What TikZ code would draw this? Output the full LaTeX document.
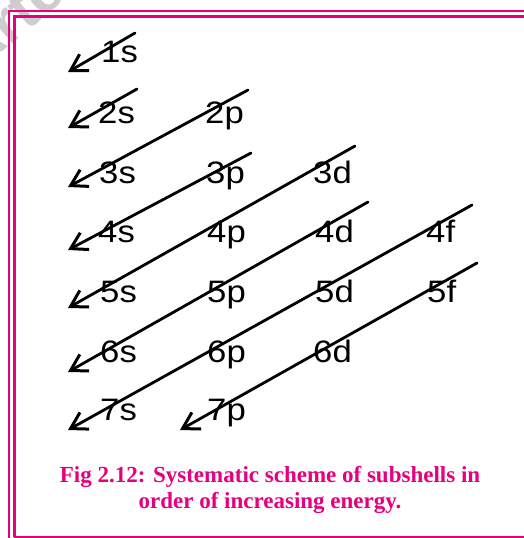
\documentclass[tikz,border=0pt]{standalone}
\usepackage{fontspec}
\setmainfont{Liberation Serif}
\newfontfamily\lblfont{Liberation Sans}
\usetikzlibrary{arrows.meta}
\definecolor{framepink}{RGB}{230,0,126}
\definecolor{wmgray}{RGB}{205,205,205}
\newcommand{\widelbl}[1]{\scalebox{1.12}[1]{#1}}
\tikzset{
  lbl/.style={anchor=base west, inner sep=0pt, font=\lblfont\fontsize{31}{31}\selectfont},
  diag/.style={line width=2.8pt, line cap=round, -{Straight Barb[length=16pt,width=19pt,line width=3pt]}},
  frameline/.style={draw=framepink, line width=2.6pt},
  captxt/.style={anchor=base, inner sep=0pt, text=framepink, font=\bfseries\fontsize{23}{26}\selectfont}
}
\begin{document}
\begin{tikzpicture}[x=1pt,y=-1pt]
\useasboundingbox (0,0) rectangle (524,538);
% watermark
\begin{scope}
\clip (0,0) rectangle (524,538);
\node[text=wmgray, font=\lblfont\bfseries\fontsize{60}{60}\selectfont, rotate=40, anchor=base west, inner sep=0pt] (wm) at (-24,74) {Arte};
\end{scope}
% frame
\draw[frameline] (8.8,538) -- (8.8,10.8) -- (524,10.8);
\draw[frameline] (14.2,536.5) -- (14.2,16.2) -- (524,16.2);
\draw[draw=framepink, line width=1.8pt] (14.2,536.8) -- (524,536.8);
% labels
\node[lbl] (s1) at (101,62) {\widelbl{1s}};
\node[lbl] (s2) at (98,123) {\widelbl{2s}};
\node[lbl] (p2) at (205,123) {\widelbl{2p}};
\node[lbl] (s3) at (99,183) {\widelbl{3s}};
\node[lbl] (p3) at (206,183) {\widelbl{3p}};
\node[lbl] (d3) at (313,183) {\widelbl{3d}};
\node[lbl] (s4) at (98,242) {\widelbl{4s}};
\node[lbl] (p4) at (207,242) {\widelbl{4p}};
\node[lbl] (d4) at (315,242) {\widelbl{4d}};
\node[lbl] (f4) at (426,242) {\widelbl{4f}};
\node[lbl] (s5) at (100,302) {\widelbl{5s}};
\node[lbl] (p5) at (207,302) {\widelbl{5p}};
\node[lbl] (d5) at (315,302) {\widelbl{5d}};
\node[lbl] (f5) at (427,302) {\widelbl{5f}};
\node[lbl] (s6) at (100,362) {\widelbl{6s}};
\node[lbl] (p6) at (207,362) {\widelbl{6p}};
\node[lbl] (d6) at (313,362) {\widelbl{6d}};
\node[lbl] (s7) at (100,420) {\widelbl{7s}};
\node[lbl] (p7) at (207,420) {\widelbl{7p}};
% line ends
\coordinate (t1) at (135,33);   \coordinate (a1) at (68,72);
\coordinate (t2) at (137,89);   \coordinate (a2) at (68,128);
\coordinate (t3) at (248,90);   \coordinate (a3) at (68,187);
\coordinate (t4) at (251,153);  \coordinate (a4) at (68,250);
\coordinate (t5) at (355,146);  \coordinate (a5) at (68,308);
\coordinate (t6) at (368,202);  \coordinate (a6) at (68,372);
\coordinate (t7) at (472,205);  \coordinate (a7) at (68,430);
\coordinate (t8) at (477,263);  \coordinate (a8) at (180,430);
\foreach \i in {1,...,8} { \draw[diag] (t\i) -- (a\i); }
% caption
\node[captxt] (cap1) at (270,482) {Fig 2.12: Systematic scheme of subshells in};
\node[captxt] (cap2) at (270,508) {order of increasing energy.};
\end{tikzpicture}
\end{document}
